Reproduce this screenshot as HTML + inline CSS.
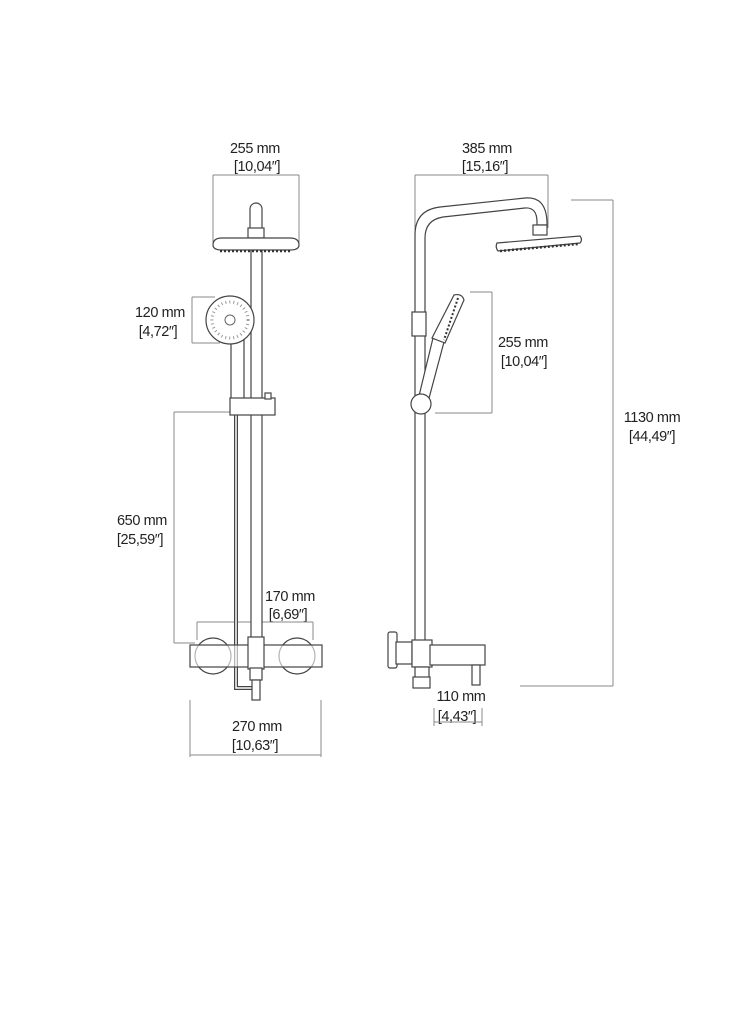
<!DOCTYPE html>
<html><head><style>
html,body{margin:0;padding:0;background:#fff;}
svg{display:block;}
text{font-family:"Liberation Sans",sans-serif;font-size:14.5px;fill:#222;text-anchor:middle;letter-spacing:-0.4px;}
.d{stroke:#888;stroke-width:1;fill:none;}
.o{stroke:#444;stroke-width:1.2;fill:#fff;}
</style></head><body>
<svg width="747" height="1024" viewBox="0 0 747 1024">
<!-- LEFT VIEW -->
<text x="255" y="153">255 mm</text><text x="257" y="171">[10,04″]</text>
<path class="d" d="M213,175H299M213,175V243M299,175V243"/>
<text x="160" y="317">120 mm</text><text x="158" y="336">[4,72″]</text>
<path class="d" d="M192,297V343M192,297H215M192,343H220"/>
<text x="142" y="525">650 mm</text><text x="140" y="544">[25,59″]</text>
<path class="d" d="M174,412V643M174,412H230M174,643H195"/>
<text x="290" y="601">170 mm</text><text x="288" y="619">[6,69″]</text>
<path class="d" d="M197,622H313M197,622V640M313,622V640"/>
<text x="257" y="731">270 mm</text><text x="255" y="750">[10,63″]</text>
<path class="d" d="M190,755H321M190,700V757M321,700V757"/>
<!-- rail -->
<rect class="o" x="251" y="248" width="11" height="395"/>
<rect class="o" x="250" y="203" width="12" height="30" rx="6"/>
<rect class="o" x="248" y="228" width="16" height="10"/>
<path class="o" d="M213,245 Q213,238 222,238 H290 Q299,238 299,245 Q299,250 290,250 H222 Q213,250 213,245Z"/>
<path d="M220,251H292" stroke="#333" stroke-width="2.5" stroke-dasharray="2,2"/>
<!-- hand shower -->
<rect class="o" x="231" y="340" width="13" height="62"/>
<circle class="o" cx="230" cy="320" r="24"/>
<circle cx="230" cy="320" r="18" fill="none" stroke="#999" stroke-width="3" stroke-dasharray="1,3"/>
<circle cx="230" cy="320" r="5" fill="none" stroke="#666"/>
<!-- hose -->
<path d="M236,410V688H252" stroke="#444" stroke-width="4" fill="none"/>
<path d="M236,410V688H252" stroke="#fff" stroke-width="1.5" fill="none"/>
<rect class="o" x="230" y="398" width="45" height="17"/>
<rect class="o" x="265" y="393" width="6" height="6"/>
<!-- mixer -->
<circle class="o" cx="213" cy="656" r="18"/>
<circle class="o" cx="297" cy="656" r="18"/>
<rect class="o" x="190" y="645" width="132" height="22" fill-opacity="0.6"/>
<rect class="o" x="248" y="637" width="16" height="32"/>
<rect class="o" x="250" y="668" width="12" height="12"/>
<rect class="o" x="252" y="680" width="8" height="20"/>
<!-- RIGHT VIEW -->
<text x="487" y="153">385 mm</text><text x="485" y="171">[15,16″]</text>
<path class="d" d="M415,175H548M415,175V230M548,175V228"/>
<text x="523" y="347">255 mm</text><text x="524" y="366">[10,04″]</text>
<path class="d" d="M492,292V413M470,292H492M435,413H492"/>
<text x="652" y="422">1130 mm</text><text x="652" y="441">[44,49″]</text>
<path class="d" d="M613,200V686M571,200H613M520,686H613"/>
<text x="461" y="701">110 mm</text><text x="457" y="721">[4,43″]</text>
<path class="d" d="M434,722H482M434,708V726M482,708V726"/>
<path class="o" d="M415,650V235 Q415,210 440,207 L525,198 Q546,196 547,222 V225 H537 V222 Q537,207 525,208 L443,217 Q425,220 425,238 V650Z"/>
<rect class="o" x="533" y="225" width="14" height="10"/>
<path class="o" d="M497,243 L580,236 Q583,240 580,243 L498,251 Q495,247 497,243Z"/>
<path d="M500,251L578,244" stroke="#333" stroke-width="2.5" stroke-dasharray="2,2"/>
<rect class="o" x="412" y="312" width="14" height="24"/>
<path class="o" d="M418,400 L433,338 L444,342 L428,402Z"/>
<path class="o" d="M432,338 L454,295 Q462,293 464,300 L445,343Z"/>
<path d="M458,298L444,340" stroke="#333" stroke-width="2" stroke-dasharray="2,2"/>
<circle class="o" cx="421" cy="404" r="10"/>
<!-- right mixer -->
<rect class="o" x="388" y="632" width="9" height="36" rx="2"/>
<rect class="o" x="396" y="642" width="16" height="22"/>
<rect class="o" x="412" y="640" width="20" height="27"/>
<rect class="o" x="430" y="645" width="55" height="20"/>
<rect class="o" x="472" y="665" width="8" height="20"/>
<rect class="o" x="415" y="667" width="14" height="12"/>
<rect class="o" x="413" y="677" width="17" height="11"/>
</svg>
</body></html>
